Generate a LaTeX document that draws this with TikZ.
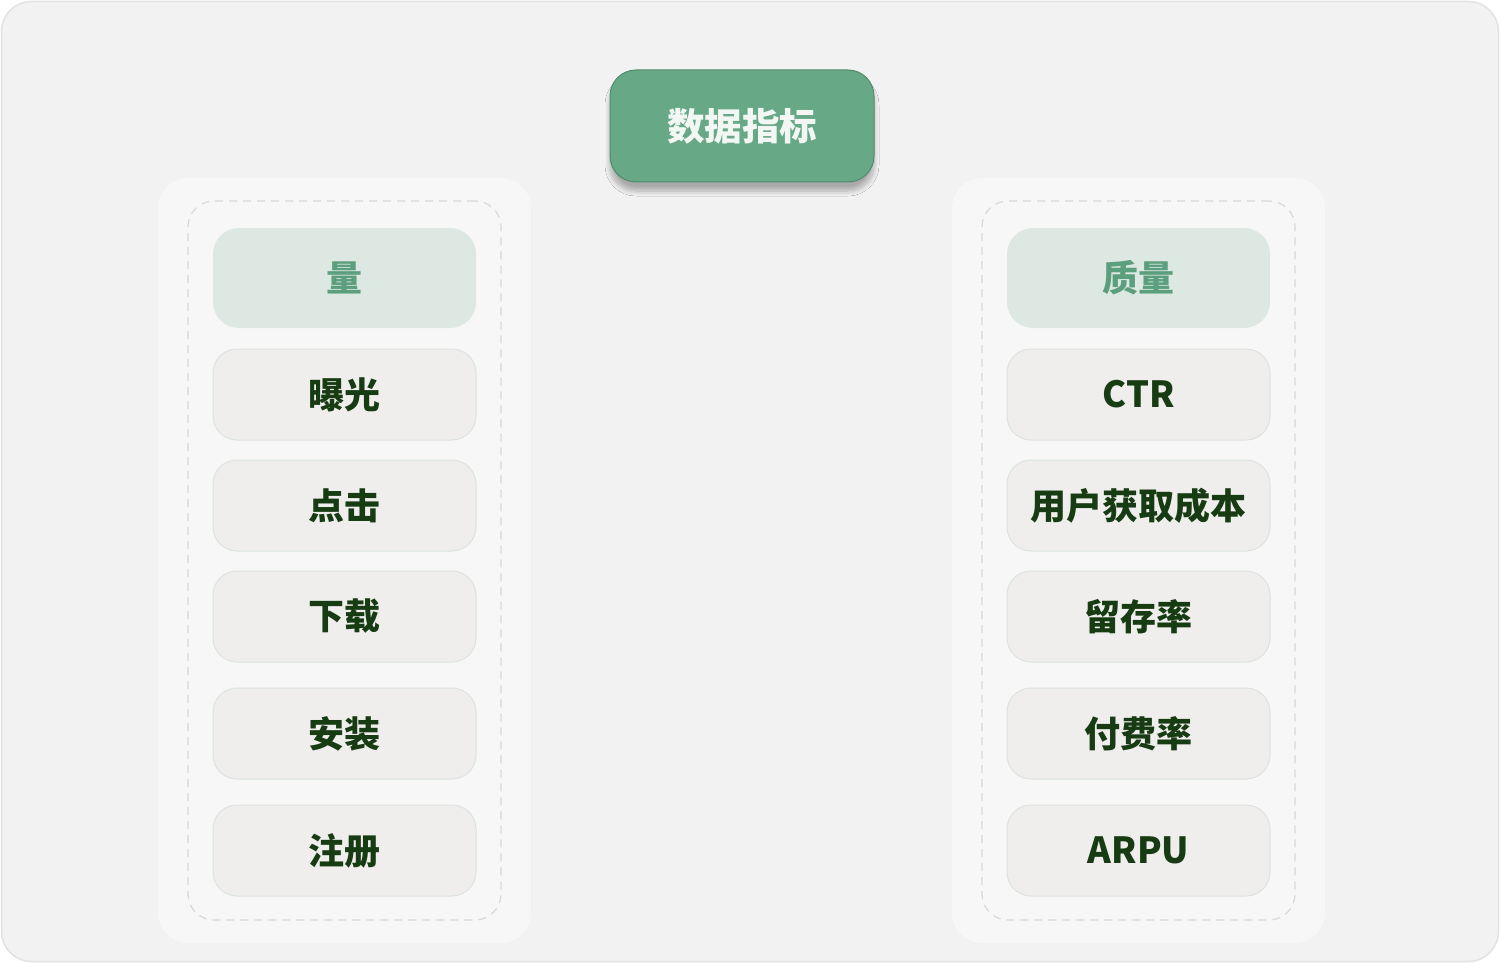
\documentclass[tikz,border=0pt]{standalone}
\usepackage{fontspec}
\setmainfont{Noto Sans CJK SC}
\usetikzlibrary{shadows,shadows.blur}
\definecolor{bgc}{HTML}{F2F2F2}
\definecolor{framec}{HTML}{E2E2E2}
\definecolor{topc}{HTML}{67A887}
\definecolor{topb}{HTML}{4F8C6B}
\definecolor{topt}{HTML}{F2F7F3}
\definecolor{panelc}{HTML}{F8F7F7}
\definecolor{dashc}{HTML}{D6D8DA}
\definecolor{headc}{HTML}{DDE8E2}
\definecolor{headt}{HTML}{5C9F7C}
\definecolor{itemc}{HTML}{EFEEEC}
\definecolor{itemb}{HTML}{DDE4DF}
\definecolor{itemt}{HTML}{173B12}
\tikzset{
  framebox/.style={draw=framec, fill=bgc, line width=1.5pt, rounded corners=30pt, minimum width=1497pt, minimum height=960pt, inner sep=0pt},
  topbox/.style={draw=topb, fill=topc, line width=1pt, rounded corners=26pt, minimum width=264pt, minimum height=112pt, inner sep=0pt, text=topt, font=\bfseries\fontsize{37.5}{40}\selectfont, blur shadow={shadow blur steps=10, shadow blur radius=5pt, shadow xshift=0pt, shadow yshift=-9pt, shadow opacity=30}},
  panelbox/.style={fill=panelc, rounded corners=30pt, minimum width=373pt, minimum height=765pt, inner sep=0pt},
  dashbox/.style={draw=dashc, line width=1.2pt, dash pattern=on 8pt off 6pt, rounded corners=26pt, minimum width=313pt, minimum height=719pt, inner sep=0pt},
  headbox/.style={fill=headc, rounded corners=26pt, minimum width=263pt, minimum height=100pt, inner sep=0pt, text=headt, font=\bfseries\fontsize{36}{40}\selectfont},
  itembox/.style={fill=itemc, draw=itemb, line width=1pt, rounded corners=24pt, minimum width=263pt, minimum height=91pt, inner sep=0pt, text=itemt, font=\bfseries\fontsize{36}{40}\selectfont},
}
\begin{document}
\begin{tikzpicture}[x=1pt,y=-1pt]
\useasboundingbox (0,0) rectangle (1500,963);
\node[framebox] (frame) at (750,481.5) {};
\node[topbox] (top) at (742,126) {数据指标};
% left panel
\node[panelbox] (lp) at (344.5,560.5) {};
\node[dashbox] (ld) at (344.5,560.5) {};
\node[headbox] (lh) at (344.5,278) {量};
\node[itembox] (l1) at (344.5,394.5) {曝光};
\node[itembox] (l2) at (344.5,505.5) {点击};
\node[itembox] (l3) at (344.5,616.5) {下载};
\node[itembox] (l4) at (344.5,733.5) {安装};
\node[itembox] (l5) at (344.5,850.5) {注册};
% right panel
\node[panelbox] (rp) at (1138.5,560.5) {};
\node[dashbox] (rd) at (1138.5,560.5) {};
\node[headbox] (rh) at (1138.5,278) {质量};
\node[itembox] (r1) at (1138.5,394.5) {CTR};
\node[itembox] (r2) at (1138.5,505.5) {用户获取成本};
\node[itembox] (r3) at (1138.5,616.5) {留存率};
\node[itembox] (r4) at (1138.5,733.5) {付费率};
\node[itembox] (r5) at (1138.5,850.5) {ARPU};
\end{tikzpicture}
\end{document}
